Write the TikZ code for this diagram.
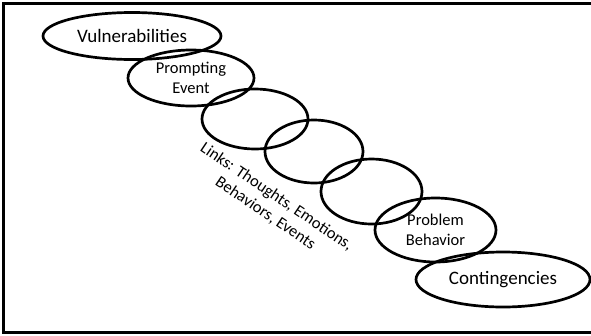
\documentclass[tikz,border=0pt]{standalone}
\usepackage{fontspec}
\setmainfont{Carlito}
\usetikzlibrary{shapes.geometric}

\begin{document}
\begin{tikzpicture}[x=1pt,y=-1pt,
  link/.style={ellipse, draw, line width=2.7pt, inner sep=0pt},
  bigtext/.style={font=\fontsize{19}{23}\selectfont},
  smalltext/.style={font=\fontsize{16.5}{20}\selectfont, align=center}]
\useasboundingbox (0,0) rectangle (591,335);
% frame, right side lies outside the picture
\draw [line width=3pt] (595,3.3) -- (3.5,3.3) -- (3.5,332.5) -- (595,332.5);

% chain of links
\node [link, minimum width=178pt, minimum height=47pt, bigtext] (vul) at (132,36) {Vulnerabilities};
\node [link, minimum width=126pt, minimum height=56pt, smalltext] (prompt) at (191,78) {Prompting\\Event};
\node [link, minimum width=106pt, minimum height=60pt] (linka) at (255,119) {};
\node [link, minimum width=98pt, minimum height=63pt] (linkb) at (314,151.5) {};
\node [link, minimum width=101pt, minimum height=65pt] (linkc) at (371.5,191.5) {};
\node [link, minimum width=121pt, minimum height=64pt, smalltext] (problem) at (435.5,230) {Problem\\Behavior};
\node [link, minimum width=174pt, minimum height=55pt, bigtext] (conting) at (503,279.5) {Contingencies};

\node [smalltext, rotate=-34] (links) at (271,205) {Links: Thoughts, Emotions,\\Behaviors, Events};
\end{tikzpicture}
\end{document}
